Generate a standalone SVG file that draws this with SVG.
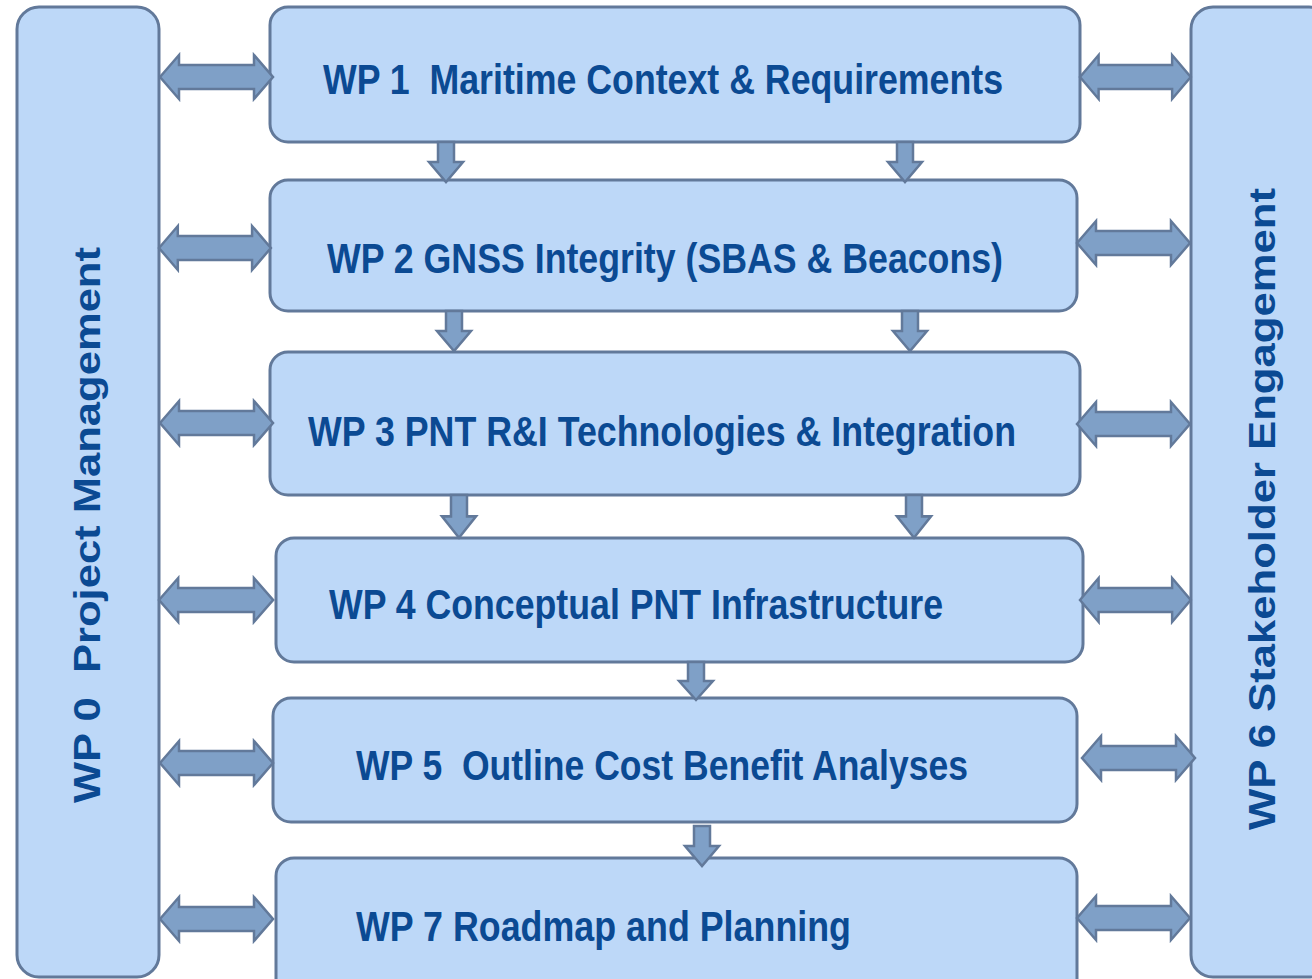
<svg xmlns="http://www.w3.org/2000/svg" width="1312" height="979" viewBox="0 0 1312 979">
<defs>
<style>
.box{fill:#BDD8F8;stroke:#62799A;stroke-width:3}
.arr{fill:#7FA0C7;stroke:#62799A;stroke-width:2.5;stroke-linejoin:miter}
.t{font-family:"Liberation Sans Narrow","Liberation Sans",sans-serif;font-weight:bold;font-size:42px;fill:#0B4A93}
.v{font-family:"Liberation Sans",sans-serif;font-weight:bold;font-size:36px;fill:#0B4A93}
</style>
<path id="dbl" d="M0,0 L19,-22 L19,-12 L94,-12 L94,-22 L113,0 L94,22 L94,12 L19,12 L19,22 Z"/>
<path id="dn" d="M-8,0 L8,0 L8,20 L17,20 L0,40 L-17,20 L-8,20 Z"/>
</defs>
<rect width="1312" height="979" fill="#FFFFFF"/>
<g id="wp0"><rect class="box" x="17" y="7" width="142" height="970" rx="22"/><text class="v" transform="translate(100,803) rotate(-90)" textLength="556" lengthAdjust="spacingAndGlyphs">WP 0&#160; Project Management</text></g>
<g id="wp6"><rect class="box" x="1191" y="7" width="140" height="970" rx="22"/><text class="v" transform="translate(1275,830) rotate(-90)" textLength="642" lengthAdjust="spacingAndGlyphs">WP 6 Stakeholder Engagement</text></g>
<g id="wp1"><rect class="box" x="270" y="7" width="810" height="135" rx="18"/><text class="t" x="323" y="94" textLength="680" lengthAdjust="spacingAndGlyphs">WP 1&#160; Maritime Context &amp; Requirements</text></g>
<g id="wp2"><rect class="box" x="270" y="180" width="807" height="131" rx="18"/><text class="t" x="327" y="273" textLength="676" lengthAdjust="spacingAndGlyphs">WP 2 GNSS Integrity (SBAS &amp; Beacons)</text></g>
<g id="wp3"><rect class="box" x="270" y="352" width="810" height="143" rx="18"/><text class="t" x="308" y="446" textLength="708" lengthAdjust="spacingAndGlyphs">WP 3 PNT R&amp;I Technologies &amp; Integration</text></g>
<g id="wp4"><rect class="box" x="276" y="538" width="807" height="124" rx="18"/><text class="t" x="329" y="619" textLength="614" lengthAdjust="spacingAndGlyphs">WP 4 Conceptual PNT Infrastructure</text></g>
<g id="wp5"><rect class="box" x="273" y="698" width="804" height="124" rx="18"/><text class="t" x="356" y="780" textLength="612" lengthAdjust="spacingAndGlyphs">WP 5&#160; Outline Cost Benefit Analyses</text></g>
<g id="wp7"><rect class="box" x="276" y="858" width="801" height="140" rx="18"/><text class="t" x="356" y="941" textLength="495" lengthAdjust="spacingAndGlyphs">WP 7 Roadmap and Planning</text></g>
<g id="connectors">
<use href="#dbl" class="arr" transform="translate(160,77)"/>
<use href="#dbl" class="arr" transform="translate(159,248) scale(0.99,1)"/>
<use href="#dbl" class="arr" transform="translate(160,423)"/>
<use href="#dbl" class="arr" transform="translate(159,600) scale(1.01,1)"/>
<use href="#dbl" class="arr" transform="translate(160,763)"/>
<use href="#dbl" class="arr" transform="translate(160,919)"/>
<use href="#dbl" class="arr" transform="translate(1080,77) scale(0.98,1)"/>
<use href="#dbl" class="arr" transform="translate(1077,243)"/>
<use href="#dbl" class="arr" transform="translate(1077,424)"/>
<use href="#dbl" class="arr" transform="translate(1080,600) scale(0.98,1)"/>
<use href="#dbl" class="arr" transform="translate(1082,758)"/>
<use href="#dbl" class="arr" transform="translate(1077,918)"/>
<use href="#dn" class="arr" transform="translate(446,142)"/>
<use href="#dn" class="arr" transform="translate(905,142)"/>
<use href="#dn" class="arr" transform="translate(454,311)"/>
<use href="#dn" class="arr" transform="translate(910,311)"/>
<use href="#dn" class="arr" transform="translate(459,495) scale(1,1.07)"/>
<use href="#dn" class="arr" transform="translate(914,495) scale(1,1.07)"/>
<use href="#dn" class="arr" transform="translate(696,662) scale(1,0.95)"/>
<use href="#dn" class="arr" transform="translate(702,826)"/>
</g>
</svg>
